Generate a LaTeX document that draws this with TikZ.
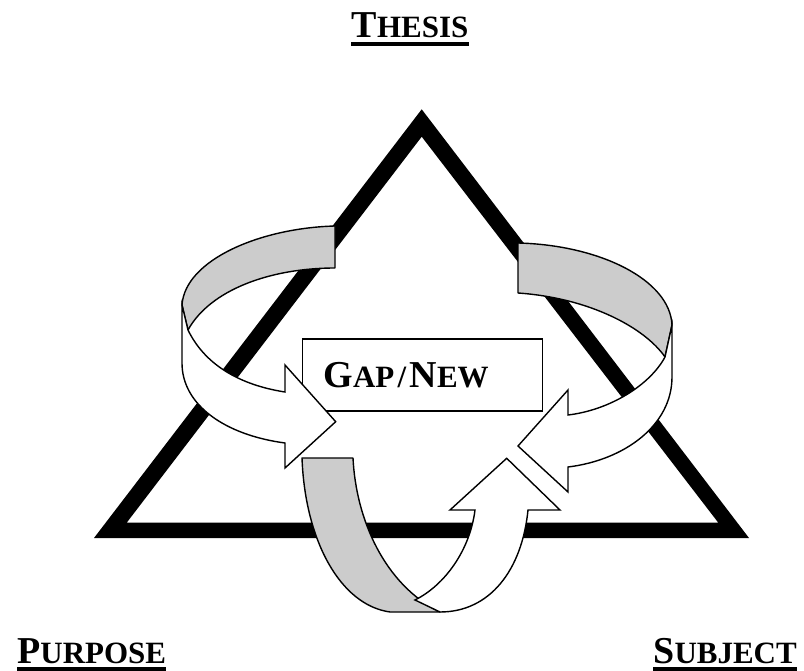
\documentclass[tikz,border=0pt]{standalone}
\usepackage{fontspec}
\setmainfont{Liberation Serif}
\usetikzlibrary{positioning}
\definecolor{ribbongrey}{gray}{0.8}
\newcommand{\capbig}[1]{{\fontsize{38}{40}\selectfont #1}}
\newcommand{\capsmall}[1]{{\fontsize{31}{34}\selectfont #1}}

\begin{document}
\begin{tikzpicture}[
  x=1pt, y=-1pt,
  back/.style={draw, line width=1.4pt, fill=ribbongrey, line join=round},
  front/.style={draw, line width=1.4pt, fill=white},
  corner/.style={inner sep=0pt, font=\bfseries},
  uline/.style={line width=4pt}
]
  \useasboundingbox (0,0) rectangle (804,671);
  % frame
  \fill[even odd rule] (421.7,109.3) -- (749,538) -- (94,538) -- cycle
    (421.7,136.7) -- (718.3,522.7) -- (126.7,522.7) -- cycle;
  % labels
  \node[corner, anchor=base] (thesis) at (410,38) {\capbig{T}\capsmall{HESIS}};
  \node[corner, anchor=base west] (purpose) at (17,663) {\capbig{P}\capsmall{URPOSE}};
  \node[corner, anchor=base east] (subject) at (797,663) {\capbig{S}\capsmall{UBJECT}};
  \foreach \n in {thesis,purpose,subject}
    \draw[uline] ([yshift=-6pt]\n.base west) -- ([yshift=-6pt]\n.base east);
  % centre box
  \node[draw, line width=1.5pt, anchor=north west, font=\bfseries, align=left,
    text width=198pt, inner xsep=21pt, inner ysep=0pt, minimum height=71.7pt,
    text height=25.2pt, text depth=0pt] (gap) at (301.7,338.3)
    {\capbig{G}\capsmall{AP\ /\ }\capbig{N}\capsmall{EW}};
  % left ribbon
  \draw[back] (335,226) .. controls (260,228) and (185,260) .. (182,305)
    -- (188,330) .. controls (210,290) and (270,268) .. (335,268) -- cycle;
  \draw[front] (188,330) -- (182,305) -- (182,363)
    .. controls (182,405) and (225,435) .. (285,443) -- (285,468) -- (335.7,421.7)
    -- (285,365) -- (285,392) .. controls (240,385) and (205,365) .. (188,330) -- cycle;
  % right ribbon
  \draw[back] (518,243) .. controls (600,245) and (670,280) .. (672,325)
    -- (665,357) .. controls (645,328) and (590,298) .. (518,293) -- cycle;
  \draw[front] (665,357) -- (672,325) -- (672,377)
    .. controls (672,425) and (625,460) .. (568,467) -- (568,492) -- (518,446)
    -- (568,390) -- (568,415) .. controls (610,410) and (650,385) .. (665,357) -- cycle;
  % bottom ribbon
  \draw[back] (302,458) -- (353,458) .. controls (356,520) and (385,585) .. (440,612)
    -- (390,612) .. controls (340,605) and (305,540) .. (302,458) -- cycle;
  \draw[front] (415,600) .. controls (445,585) and (470,550) .. (475,510)
    -- (450,510) -- (506.7,458.3) -- (560,510) -- (528,510)
    .. controls (522,570) and (490,612) .. (440,612) -- cycle;
\end{tikzpicture}
\end{document}
